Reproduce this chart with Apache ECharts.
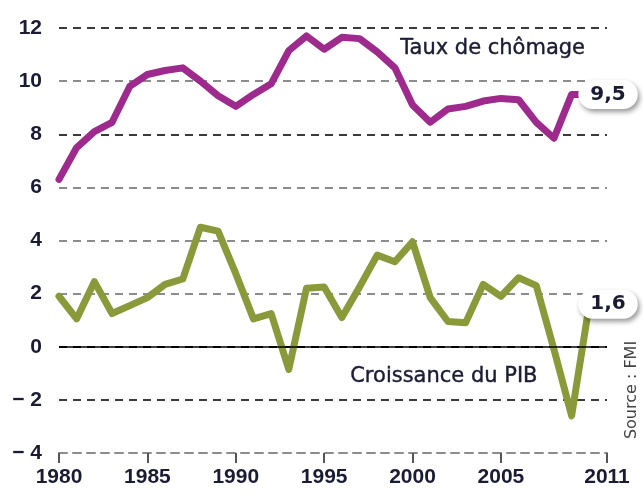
<!DOCTYPE html>
<html>
<head>
<meta charset="utf-8">
<script src="https://cdn.jsdelivr.net/npm/echarts@6/dist/echarts.min.js"></script>
<style>
  html, body { margin: 0; padding: 0; background: #fff; }
  #chart { width: 643px; height: 493px; }
</style>
</head>
<body>
<div id="chart"></div>
<script>
// années 1980 - 2010
var years = [1980, 1981, 1982, 1983, 1984, 1985, 1986, 1987, 1988, 1989,
	1990, 1991, 1992, 1993, 1994, 1995, 1996, 1997, 1998, 1999,
	2000, 2001, 2002, 2003, 2004, 2005, 2006, 2007, 2008, 2009, 2010];

// taux de chômage (%)
var chomage = [6.3, 7.5, 8.1, 8.45, 9.8, 10.25, 10.4, 10.5, 10.0, 9.45,
	9.05, 9.5, 9.9, 11.15, 11.7, 11.2, 11.65, 11.6, 11.1, 10.5,
	9.1, 8.45, 8.95, 9.05, 9.25, 9.35, 9.3, 8.45, 7.85, 9.5, 9.5];

// croissance du PIB (%)
var pib = [1.9, 1.05, 2.45, 1.25, 1.55, 1.85, 2.35, 2.55, 4.5, 4.35,
	2.75, 1.05, 1.25, -0.85, 2.2, 2.25, 1.1, 2.25, 3.45, 3.2,
	3.95, 1.85, 0.95, 0.9, 2.35, 1.9, 2.6, 2.3, -0.1, -2.6, 1.6];

var xTicks = [1980, 1985, 1990, 1995, 2000, 2005, 2011];
var endLabels = ['9,5', '1,6'];

var dark = '#3a3a3a', gris = '#8c8c8c';
var txtColor = '#1b1b33';

function pairs(vals) {
	return years.map(function (y, i) { return [y, vals[i]]; });
}

function endLabel(txt) {
	return {
		show: true,
		formatter: txt,
		offset: [-19, 0],
		backgroundColor: '#fff',
		borderRadius: 15,
		padding: [5, 12, 4, 12],
		fontFamily: 'DejaVu Sans',
		fontWeight: 'bold',
		fontSize: 20,
		color: txtColor,
		shadowColor: 'rgba(0,0,0,0.4)',
		shadowBlur: 5,
		shadowOffsetX: 2,
		shadowOffsetY: 3
	};
}

var chart = echarts.init(document.getElementById('chart'));
chart.setOption({
	animation: false,
	grid: { left: 59, right: 36, top: 28, bottom: 40 },
	xAxis: {
		type: 'value',
		min: 1980,
		max: 2011,
		splitLine: { show: false },
		axisLine: {
			show: true,
			onZero: false,
			lineStyle: { color: gris, type: [8, 6], width: 2 }
		},
		axisTick: {
			show: true,
			customValues: xTicks,
			length: 10,
			lineStyle: { color: '#555', width: 2 }
		},
		axisLabel: {
			customValues: xTicks,
			margin: 14,
			fontFamily: 'Liberation Sans',
			fontWeight: 'bold',
			fontSize: 21,
			color: txtColor,
			formatter: function (v) { return String(v); }
		}
	},
	yAxis: {
		type: 'value',
		min: -4,
		max: 12,
		interval: 2,
		axisLine: { show: false },
		axisTick: { show: false },
		axisLabel: {
			margin: 17,
			fontFamily: 'Liberation Sans',
			fontWeight: 'bold',
			fontSize: 21,
			color: txtColor,
			formatter: function (v) { return v < 0 ? '\u2212 ' + Math.abs(v) : String(v); }
		},
		splitLine: {
			lineStyle: {
				type: [8, 6],
				width: 2,
				color: [gris, dark, '#000', gris, gris, gris, dark, gris, dark]
			}
		}
	},
	graphic: [
		{
			type: 'text', left: 400, top: 38,
			style: { text: 'Taux de chômage', fontFamily: 'DejaVu Sans', fontSize: 21, fill: txtColor, stroke: txtColor, lineWidth: 0.4 }
		},
		{
			type: 'text', left: 350, top: 366,
			style: { text: 'Croissance du PIB', fontFamily: 'DejaVu Sans', fontSize: 21, fill: txtColor, stroke: txtColor, lineWidth: 0.4 }
		},
		{
			type: 'text', x: 632, y: 390, rotation: Math.PI / 2,
			style: { text: 'Source : FMI', fontFamily: 'DejaVu Sans', fontSize: 16, fill: '#444', align: 'center', verticalAlign: 'middle' }
		}
	],
	series: [
		{
			name: 'Taux de chômage',
			type: 'line',
			data: pairs(chomage),
			symbol: 'none',
			lineStyle: { color: '#9e2a8e', width: 7, cap: 'round', join: 'round' },
			endLabel: endLabel(endLabels[0]),
			z: 3
		},
		{
			name: 'Croissance du PIB',
			type: 'line',
			data: pairs(pib),
			symbol: 'none',
			lineStyle: { color: '#8a9a3a', width: 7, cap: 'round', join: 'round' },
			endLabel: endLabel(endLabels[1]),
			markLine: {
				silent: true,
				symbol: 'none',
				label: { show: false },
				lineStyle: { color: '#000', type: 'solid', width: 1.5 },
				data: [{ yAxis: 0 }]
			},
			z: 3
		}
	]
});
</script>
</body>
</html>
